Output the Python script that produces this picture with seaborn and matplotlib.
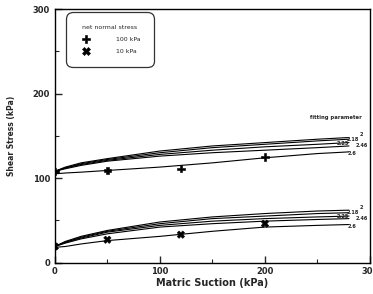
import pandas as pd
import numpy as np
from matplotlib import pyplot as plt
import seaborn as sns

# measured points
suction_pts = [0, 50, 120, 200]
tau_100 = [108, 109, 111, 125]
tau_10 = [19, 27, 33, 46]

# fitted curves, one per fitting parameter
suction_fit = [0, 10, 25, 50, 100, 150, 200, 250, 280]
fit_params = ['2', '2.18', '2.25', '2.46', '2.6']
fit_100 = {
    '2':    [108, 113, 118, 123, 132, 138, 142, 146, 148],
    '2.18': [108, 112, 117, 122, 130, 136, 140, 144, 146],
    '2.25': [108, 112, 116, 121, 128, 133, 137, 140, 142],
    '2.46': [108, 111, 115, 120, 126, 130, 133, 136, 138],
    '2.6':  [105, 106, 107, 109, 113, 118, 124, 129, 131],
}
fit_10 = {
    '2':    [19, 25, 31, 38, 48, 54, 58, 61, 62],
    '2.18': [19, 24, 30, 37, 46, 52, 55, 58, 59],
    '2.25': [19, 24, 29, 36, 44, 49, 52, 54, 55],
    '2.46': [19, 23, 28, 34, 42, 46, 49, 51, 52],
    '2.6':  [18, 19, 22, 26, 31, 37, 42, 44, 45],
}

rows = []
for stress, fits in [('100', fit_100), ('10', fit_10)]:
    for p in fit_params:
        for s, t in zip(suction_fit, fits[p]):
            rows.append({'stress': stress, 'param': p, 'suction': s, 'tau': t})
fit_df = pd.DataFrame(rows)
fit_df['curve'] = fit_df['stress'] + '_' + fit_df['param']

pts_df = pd.DataFrame({
    'suction': suction_pts * 2,
    'tau': tau_100 + tau_10,
    'stress': ['100 kPa'] * 4 + ['10 kPa'] * 4,
})

sns.set_style('ticks')
plt.rcParams['font.family'] = ['DejaVu Sans']

f = plt.figure(figsize=(3.73, 2.94), dpi=100)
ax = f.add_axes([0.147, 0.107, 0.845, 0.862])

sns.lineplot(data=fit_df, x='suction', y='tau', units='curve', estimator=None,
             color='black', linewidth=0.8, ax=ax, legend=False)
sns.scatterplot(data=pts_df, x='suction', y='tau', style='stress',
                markers={'100 kPa': 'P', '10 kPa': 'X'}, color='black',
                s=28, edgecolor='black', ax=ax, zorder=5)

# labels at the end of the curves
lab_dx = {'2': 12, '2.18': 4, '2.25': -6, '2.46': 12, '2.6': 3}
lab_dy = {'2': 3, '2.18': 0, '2.25': -1, '2.46': 0, '2.6': -2}
for fits in [fit_100, fit_10]:
    for p in fit_params:
        ax.text(280 + lab_dx[p], fits[p][-1] + lab_dy[p], p, fontsize=3.6,
                fontweight='bold', ha='center', va='center')
ax.text(268, 172, 'fitting parameter', fontsize=3.8, fontweight='bold',
        ha='center', va='center')

ax.set_xlim(0, 300)
ax.set_ylim(0, 300)
ax.set_xticks([0, 100, 200, 300])
ax.set_yticks([0, 100, 200, 300])
ax.set_xticks([50, 150, 250], minor=True)
ax.set_yticks([50, 150, 250], minor=True)
ax.tick_params(direction='in', length=5, width=1, labelsize=6)
ax.tick_params(which='minor', direction='in', length=3, width=0.8)
for lbl in ax.get_xticklabels() + ax.get_yticklabels():
    lbl.set_fontweight('bold')
for sp in ax.spines.values():
    sp.set_visible(True)
    sp.set_linewidth(1.0)
    sp.set_color('black')

ax.set_xlabel('Matric Suction (kPa)', fontsize=7, fontweight='bold', labelpad=1)
ax.set_ylabel('Shear Stress (kPa)', fontsize=5.5, fontweight='bold', labelpad=12)

leg = ax.legend(title='net normal stress', loc='upper left',
                bbox_to_anchor=(0.035, 0.99), fontsize=4.5, title_fontsize=4.5,
                frameon=True, fancybox=True, edgecolor='black',
                borderpad=1.9, labelspacing=1.05, handletextpad=3.8,
                markerscale=1.15, borderaxespad=0.3)
leg.get_frame().set_linewidth(0.9)
leg.get_frame().set_boxstyle('round', pad=0.2, rounding_size=1.0)

f.savefig('out.png', dpi=100)
